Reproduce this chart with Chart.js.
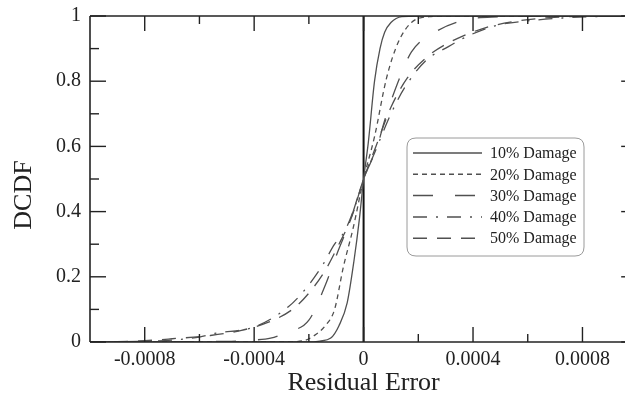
<!DOCTYPE html>
<html>
<head>
<meta charset="utf-8">
<script src="https://cdn.jsdelivr.net/npm/chart.js@4.4.1/dist/chart.umd.min.js"></script>
<style>
html,body{margin:0;padding:0;background:#fff;overflow:hidden;}
#c{display:block;}
</style>
</head>
<body>
<canvas id="c" width="625" height="403"></canvas>
<script>
// ---- data (x in residual error units, y = DCDF) ----
const seriesLabels = ['10% Damage','20% Damage','30% Damage','40% Damage','50% Damage'];

const x10 = [-0.001,-0.0002,-0.00016,-0.00012,-0.00009,-0.00006,-0.000035,-0.000015,0,0.000017,0.00004,0.00006,0.000077,0.0001,0.00014,0.0002,0.001];
const y10 = [0,0,0.003,0.012,0.05,0.12,0.25,0.38,0.5,0.61,0.8,0.9,0.95,0.98,0.998,1,1];

const x20 = [-0.001,-0.0003,-0.00022,-0.00018,-0.00014,-0.000106,-0.000074,-0.000038,0,0.00004,0.000084,0.000127,0.000175,0.00024,0.0003,0.001];
const y20 = [0,0,0.004,0.02,0.05,0.1,0.23,0.35,0.5,0.63,0.81,0.92,0.98,0.998,1,1];

const x30 = [-0.001,-0.0005,-0.0004,-0.00034,-0.00028,-0.0002,-0.000142,-0.000093,-0.00005,0,0.00005,0.000077,0.000127,0.000175,0.00026,0.00037,0.0005,0.0006,0.001];
const y30 = [0,0.002,0.006,0.012,0.03,0.067,0.17,0.28,0.37,0.5,0.6,0.68,0.8,0.89,0.95,0.988,0.998,1,1];

const x40 = [-0.001,-0.0008,-0.0007,-0.0006,-0.00054,-0.0004,-0.000275,-0.000215,-0.000154,-0.000106,-0.000069,-0.00003,0,0.00004,0.0001,0.00015,0.00023,0.00031,0.00036,0.00048,0.0006,0.00075,0.0009,0.001];
const y40 = [0,0.002,0.006,0.015,0.027,0.046,0.108,0.16,0.23,0.3,0.34,0.42,0.5,0.58,0.7,0.78,0.865,0.906,0.93,0.97,0.985,0.995,0.999,1];

const x50 = [-0.001,-0.0009,-0.0008,-0.0007,-0.00056,-0.00045,-0.00035,-0.00026,-0.0002,-0.00014,-0.00009,-0.000045,0,0.000045,0.0001,0.00016,0.00024,0.00034,0.00045,0.00055,0.00068,0.0008,0.001];
const y50 = [0,0.001,0.004,0.01,0.02,0.035,0.06,0.1,0.15,0.22,0.3,0.38,0.5,0.6,0.72,0.81,0.88,0.93,0.965,0.983,0.995,0.999,1];

const zeroX = [0,0];
const zeroY = [0,1];

const xTickValues = [-0.0008,-0.0004,0,0.0004,0.0008];
const xTickLabels = ['-0.0008','-0.0004','0','0.0004','0.0008'];
const xMinorTicks = [-0.0006,-0.0002,0.0002,0.0006];
const yTickValues = [0,0.2,0.4,0.6,0.8,1];
const yTickLabels = ['0','0.2','0.4','0.6','0.8','1'];
const yMinorTicks = [0.1,0.3,0.5,0.7,0.9];
const xAxisMin = -0.001, xAxisEnd = 0.001;   // full axis range (right side falls just past the picture)
const xVisibleMax = 0.00095;

const xTitle = 'Residual Error';
const yTitle = 'DCDF';

// ---- build ----
const dashes = [[], [5,4], [20,22], [14,9,2,9], [14,10]];
const xs = [x10,x20,x30,x40,x50];
const ys = [y10,y20,y30,y40,y50];
const toPts = (a,b)=>a.map((v,i)=>({x:v,y:b[i]}));

const datasets = seriesLabels.map((lab,i)=>({
  label: lab,
  data: toPts(xs[i],ys[i]),
  showLine: true,
  borderColor: '#505050',
  borderWidth: 1.3,
  borderDash: dashes[i],
  pointRadius: 0,
  cubicInterpolationMode: 'monotone',
  fill: false
}));
datasets.push({
  label: '_zero',
  data: toPts(zeroX, zeroY),
  showLine: true,
  borderColor: '#111',
  borderWidth: 2,
  pointRadius: 0,
  fill: false
});

const SERIF = '"Liberation Serif","Times New Roman",serif';

const framePlugin = {
  id: 'frame',
  afterDraw(chart){
    const ctx = chart.ctx, a = chart.chartArea;
    const xs = chart.scales.x, ysc = chart.scales.y;
    const rightAxis = xs.getPixelForValue(xAxisEnd);
    ctx.save();
    ctx.strokeStyle = '#222';
    ctx.setLineDash([]);
    const seg = (x1,y1,x2,y2)=>{ctx.beginPath();ctx.moveTo(x1,y1);ctx.lineTo(x2,y2);ctx.stroke();};
    ctx.lineWidth = 1.6;
    seg(a.left, a.top, rightAxis, a.top);
    seg(a.left, a.bottom, rightAxis, a.bottom);
    seg(a.left, a.top, a.left, a.bottom);
    seg(rightAxis, a.top, rightAxis, a.bottom);
    ctx.lineWidth = 1.4;
    xTickValues.forEach(v=>{const p=xs.getPixelForValue(v);seg(p,a.bottom,p,a.bottom-15);seg(p,a.top,p,a.top+15);});
    xMinorTicks.forEach(v=>{const p=xs.getPixelForValue(v);seg(p,a.bottom,p,a.bottom-8);seg(p,a.top,p,a.top+8);});
    yTickValues.forEach(v=>{const p=ysc.getPixelForValue(v);seg(a.left,p,a.left+16,p);seg(rightAxis,p,rightAxis-16,p);});
    yMinorTicks.forEach(v=>{const p=ysc.getPixelForValue(v);seg(a.left,p,a.left+9,p);seg(rightAxis,p,rightAxis-9,p);});
    // titles
    ctx.fillStyle = '#222';
    ctx.font = '26px ' + SERIF;
    ctx.textAlign = 'center';
    ctx.textBaseline = 'middle';
    ctx.fillText(xTitle, xs.getPixelForValue(0), 383);
    ctx.save();
    ctx.translate(24, 195);
    ctx.rotate(-Math.PI/2);
    ctx.font = '26px ' + SERIF;
    ctx.fillText(yTitle, 0, 0);
    ctx.restore();
    // legend
    const lx = 407, ly = 138, lw = 177, lh = 118, r = 9;
    ctx.beginPath();
    ctx.moveTo(lx+r,ly);ctx.lineTo(lx+lw-r,ly);ctx.quadraticCurveTo(lx+lw,ly,lx+lw,ly+r);
    ctx.lineTo(lx+lw,ly+lh-r);ctx.quadraticCurveTo(lx+lw,ly+lh,lx+lw-r,ly+lh);
    ctx.lineTo(lx+r,ly+lh);ctx.quadraticCurveTo(lx,ly+lh,lx,ly+lh-r);
    ctx.lineTo(lx,ly+r);ctx.quadraticCurveTo(lx,ly,lx+r,ly);ctx.closePath();
    ctx.fillStyle='#fff';ctx.fill();
    ctx.strokeStyle='#9a9a9a';ctx.lineWidth=1;ctx.stroke();
    ctx.font = '16px ' + SERIF;
    ctx.textAlign='left';ctx.textBaseline='middle';
    chart.data.datasets.slice(0,5).forEach((ds,i)=>{
      const yy = 153 + i*21.3;
      ctx.strokeStyle = ds.borderColor; ctx.lineWidth = 1.5;
      ctx.setLineDash(ds.borderDash);
      seg(413, yy, 482, yy);
      ctx.setLineDash([]);
      ctx.fillStyle='#222';
      ctx.fillText(ds.label, 490, yy+1);
    });
    ctx.restore();
  }
};

new Chart(document.getElementById('c'), {
  type: 'scatter',
  data: { datasets },
  options: {
    responsive: false,
    animation: false,
    layout: { padding: { top: 16, right: 1.5, left: 0, bottom: 0 } },
    plugins: { legend: { display: false }, tooltip: { enabled: false } },
    scales: {
      x: {
        type: 'linear', min: xAxisMin, max: xVisibleMax,
        afterBuildTicks: s => { s.ticks = xTickValues.map(v=>({value:v})); },
        afterFit: s => { s.height = 61; s.paddingLeft = 0; s.paddingRight = 0; },
        grid: { display: false, drawTicks: false },
        border: { display: false },
        ticks: {
          padding: 6, color: '#222', maxRotation: 0, autoSkip: false,
          font: { family: SERIF, size: 20 },
          callback: (v) => { const i = xTickValues.findIndex(t=>Math.abs(t-v)<1e-9); return i>=0 ? xTickLabels[i] : ''; }
        }
      },
      y: {
        type: 'linear', min: 0, max: 1,
        afterBuildTicks: s => { s.ticks = yTickValues.map(v=>({value:v})); },
        afterFit: s => { s.width = 90; s.paddingTop = 0; s.paddingBottom = 0; },
        grid: { display: false, drawTicks: false },
        border: { display: false },
        ticks: {
          padding: 9, color: '#222',
          font: { family: SERIF, size: 20 },
          callback: (v) => { const i = yTickValues.findIndex(t=>Math.abs(t-v)<1e-9); return i>=0 ? yTickLabels[i] : ''; }
        }
      }
    }
  },
  plugins: [framePlugin]
});
</script>
</body>
</html>
